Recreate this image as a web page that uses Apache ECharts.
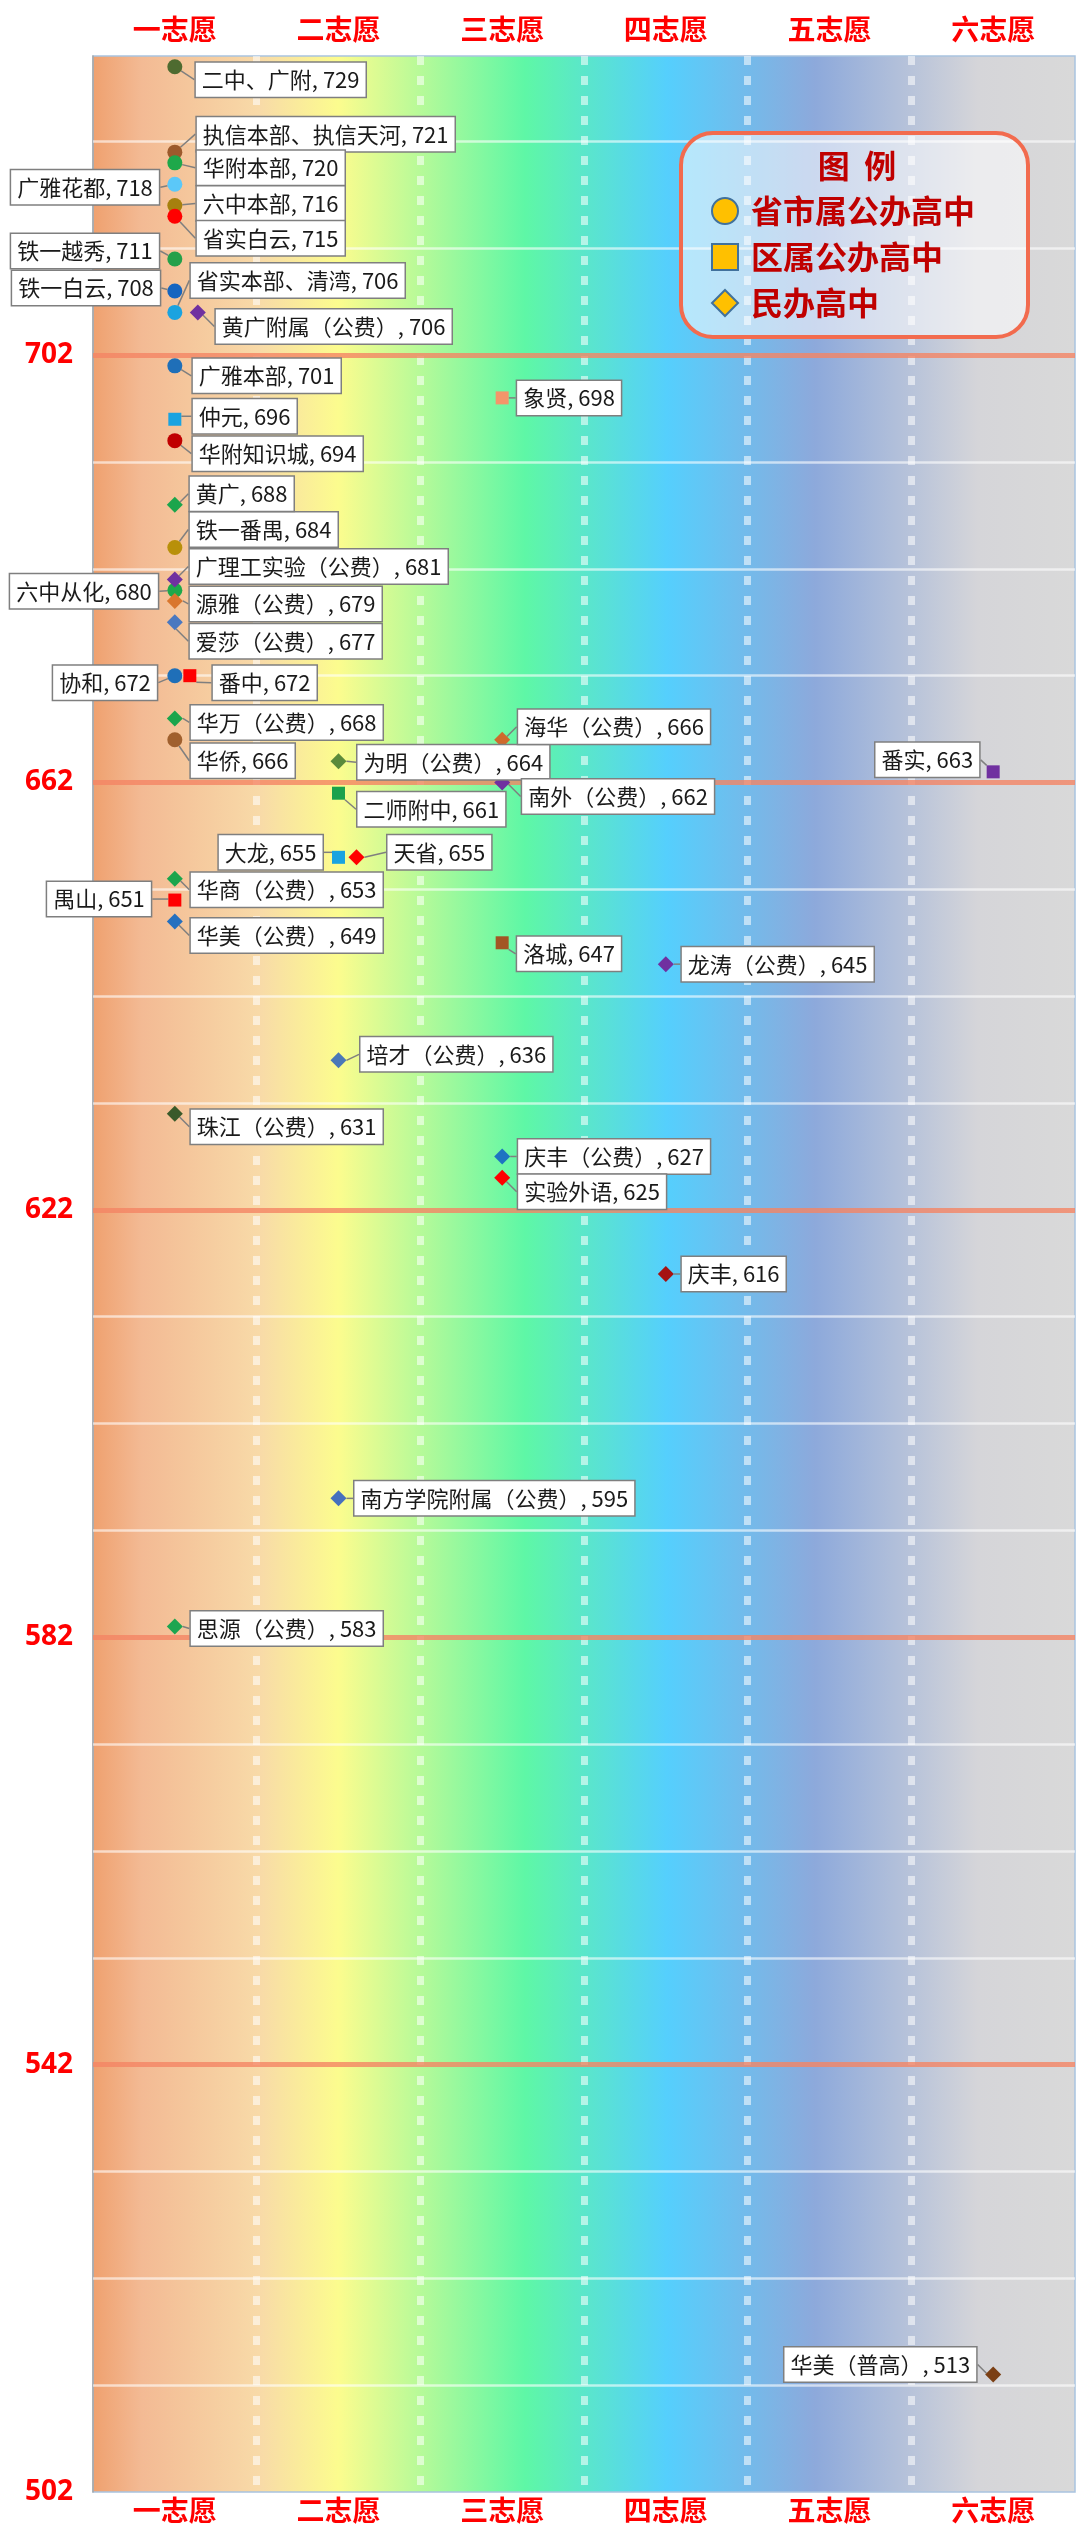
<!DOCTYPE html>
<html>
<head>
<meta charset="utf-8">
<title>志愿分数线</title>
<script src="https://cdn.jsdelivr.net/npm/echarts@6/dist/echarts.min.js"></script>
<style>
  html, body { margin: 0; padding: 0; background: #fff; }
  #main { width: 1080px; height: 2529px; }
</style>
</head>
<body>
<div id="main"></div>
<script>
// 志愿（横轴）
var volunteers = ['一志愿', '二志愿', '三志愿', '四志愿', '五志愿', '六志愿'];

// 纵轴刻度
var yTickLabels = [502, 542, 582, 622, 662, 702];
var majorLines = [542, 582, 622, 662, 702];
var minorLines = [512, 522, 532, 552, 562, 572, 592, 602, 612, 632, 642, 652, 672, 682, 692, 712, 722];

// 省市属公办高中
var publicNames = ['二中、广附', '执信本部、执信天河', '华附本部', '广雅花都', '六中本部', '省实白云', '铁一越秀', '铁一白云',
  '省实本部、清湾', '广雅本部', '华附知识城', '铁一番禺', '六中从化', '协和', '华侨'];
var publicChoice = [0, 0, 0, 0, 0, 0, 0, 0, 0, 0, 0, 0, 0, 0, 0];
var publicScores = [729, 721, 720, 718, 716, 715, 711, 708, 706, 701, 694, 684, 680, 672, 666];

// 区属公办高中
var districtNames = ['仲元', '番中', '禺山', '二师附中', '大龙', '象贤', '洛城', '番实'];
var districtChoice = [0, 0, 0, 1, 1, 2, 2, 5];
var districtScores = [696, 672, 651, 661, 655, 698, 647, 663];

// 民办高中
var privateNames = ['黄广附属（公费）', '黄广', '广理工实验（公费）', '源雅（公费）', '爱莎（公费）', '华万（公费）', '华商（公费）',
  '华美（公费）', '珠江（公费）', '思源（公费）', '为明（公费）', '天省', '培才（公费）', '南方学院附属（公费）', '海华（公费）',
  '南外（公费）', '庆丰（公费）', '实验外语', '龙涛（公费）', '庆丰', '华美（普高）'];
var privateChoice = [0, 0, 0, 0, 0, 0, 0, 0, 0, 0, 1, 1, 1, 1, 2, 2, 2, 2, 3, 3, 5];
var privateScores = [706, 688, 681, 679, 677, 668, 653, 649, 631, 583, 664, 655, 636, 595, 666, 662, 627, 625, 645, 616, 513];

var legendNames = ['省市属公办高中', '区属公办高中', '民办高中'];

// 点的颜色
var publicColors = ['#4E6B30', '#9C5A2C', '#1EA84A', '#5BC8F8', '#A6800E', '#FF0000', '#24A04A', '#1565C0',
  '#1AA3E0', '#1F6FB8', '#C00000', '#B8900A', '#1EA84A', '#1F6FB8', '#A0602E'];
var districtColors = ['#1AA3E0', '#FF0000', '#FF0000', '#1BA24C', '#1AA3E0', '#F4956A', '#A35524', '#7030A0'];
var privateColors = ['#7030A0', '#1BA54C', '#7030A0', '#D9762E', '#4A78C0', '#1BA54C', '#1BA54C', '#2570BF',
  '#3A5A2A', '#1DA550', '#5B8A3B', '#FF0000', '#4A78B8', '#4670BE', '#CF6A2C', '#7030A0', '#1E74C2',
  '#FF0000', '#7030A0', '#A51212', '#7B3F14'];

// 同一位置上错开的点
var symbolShift = { '黄广附属（公费）': [23, 0], '番中': [15, 0], '天省': [18, 0] };

// 标注框相对点的位置 [水平间距, 垂直偏移]
var labelOffsets = {
  '二中、广附': [21, 13], '执信本部、执信天河': [22, -18], '华附本部': [22, 5], '六中本部': [22, -2],
  '省实白云': [22, 22], '省实本部、清湾': [16, -32], '黄广附属（公费）': [18, 14], '广雅本部': [18, 10],
  '仲元': [18, -3], '华附知识城': [18, 13], '黄广': [15, -11], '铁一番禺': [15, -18],
  '广理工实验（公费）': [15, -13], '源雅（公费）': [15, 3], '爱莎（公费）': [15, 19], '番中': [23, 7],
  '华万（公费）': [16, 4], '华侨': [16, 21], '华商（公费）': [16, 11], '华美（公费）': [16, 14],
  '珠江（公费）': [16, 13], '思源（公费）': [16, 2], '为明（公费）': [19, 1], '二师附中': [19, 16],
  '天省': [31, -5], '培才（公费）': [22, -6], '南方学院附属（公费）': [16, 0], '象贤': [15, 0],
  '海华（公费）': [16, -13], '南外（公费）': [20, 14], '洛城': [15, 11], '庆丰（公费）': [16, 0],
  '实验外语': [16, 14], '龙涛（公费）': [16, 0], '庆丰': [16, 0],
  '广雅花都': [16, 3], '铁一越秀': [16, -8], '铁一白云': [15, -3], '六中从化': [17, 1],
  '协和': [18, 7], '禺山': [24, -1], '大龙': [16, -5], '番实': [14, -12], '华美（普高）': [17, -10]
};
var leftLabels = ['广雅花都', '铁一越秀', '铁一白云', '六中从化', '协和', '禺山', '大龙', '番实', '华美（普高）'];

var FONT = '"Noto Sans CJK SC", "Noto Sans", sans-serif';

function buildData(names, choice, scores, colors) {
  var out = [];
  for (var i = 0; i < names.length; i++) {
    var item = {
      name: names[i],
      value: [choice[i], scores[i]],
      itemStyle: { color: colors[i] }
    };
    if (symbolShift[names[i]]) item.symbolOffset = symbolShift[names[i]];
    out.push(item);
  }
  return out;
}

//标注框摆放
function makeLayout(names) {
  return function (p) {
    var name = names[p.dataIndex];
    var o = labelOffsets[name] || [16, 0];
    var side = leftLabels.indexOf(name) >= 0 ? -1 : 1;
    var cx = p.rect.x + p.rect.width / 2;
    var cy = p.rect.y + p.rect.height / 2;
    return {
      x: cx + side * o[0],
      y: cy + o[1],
      align: side > 0 ? 'left' : 'right',
      verticalAlign: 'middle'
    };
  };
}

function scatterSeries(legendName, symbol, size, names, choice, scores, colors) {
  return {
    name: legendName,
    type: 'scatter',
    symbol: symbol,
    symbolSize: size,
    z: 5,
    itemStyle: { opacity: 1 },
    data: buildData(names, choice, scores, colors),
    label: {
      show: true,
      position: 'right',
      formatter: function (p) { return p.name + ', ' + p.value[1]; },
      fontFamily: FONT,
      fontSize: 22,
      lineHeight: 26,
      color: '#1a1a1a',
      backgroundColor: '#ffffff',
      borderColor: '#7F7F7F',
      borderWidth: 1.5,
      padding: [4, 6, 4, 6]
    },
    labelLine: {
      show: true,
      lineStyle: { color: '#7F7F7F', width: 1.5 }
    },
    labelLayout: makeLayout(names)
  };
}

var gridLineData = [];
for (var i = 0; i < minorLines.length; i++) {
  gridLineData.push({ yAxis: minorLines[i], lineStyle: { color: 'rgba(255,255,255,0.6)', width: 2.5, type: 'solid' } });
}
for (var j = 0; j < majorLines.length; j++) {
  gridLineData.push({ yAxis: majorLines[j], lineStyle: { color: 'rgba(244,132,100,0.8)', width: 5, type: 'solid' } });
}

var chart = echarts.init(document.getElementById('main'), null, { renderer: 'canvas' });

var option = {
  animation: false,
  backgroundColor: '#ffffff',
  title: {
    text: '图  例',
    left: 857,
    top: 150,
    textAlign: 'center',
    padding: 0,
    z: 10,
    textStyle: { color: '#C00000', fontSize: 32, fontWeight: 'bold', fontFamily: FONT }
  },
  legend: {
    orient: 'vertical',
    left: 681,
    top: 133,
    padding: [62, 53, 18, 30],
    itemWidth: 26,
    itemHeight: 26,
    itemGap: 14,
    selectedMode: false,
    z: 9,
    backgroundColor: 'rgba(255,255,255,0.55)',
    borderColor: '#F26B4E',
    borderWidth: 4,
    borderRadius: 32,
    textStyle: { color: '#C00000', fontSize: 32, fontWeight: 'bold', fontFamily: FONT, padding: [0, 0, 0, 8] },
    data: [
      { name: legendNames[0], icon: 'circle', itemStyle: { color: '#FFC000', borderColor: '#41719C', borderWidth: 2 } },
      { name: legendNames[1], icon: 'rect', itemStyle: { color: '#FFC000', borderColor: '#41719C', borderWidth: 2 } },
      { name: legendNames[2], icon: 'diamond', itemStyle: { color: '#FFC000', borderColor: '#41719C', borderWidth: 2 } }
    ]
  },
  grid: {
    left: 93,
    right: 5,
    top: 56,
    bottom: 37,
    show: true,
    borderColor: '#A9C4E0',
    borderWidth: 1.5,
    backgroundColor: new echarts.graphic.LinearGradient(0, 0, 1, 0, [
      { offset: 0, color: '#EFA06E' },
      { offset: 0.05, color: '#F3BA94' },
      { offset: 0.17, color: '#F8DAA8' },
      { offset: 0.25, color: '#FCFC8E' },
      { offset: 0.44, color: '#5EF7A6' },
      { offset: 0.585, color: '#55CFFD' },
      { offset: 0.735, color: '#8DA9DB' },
      { offset: 0.9, color: '#D5D5D9' },
      { offset: 1, color: '#D9D9D9' }
    ])
  },
  xAxis: [
    {
      type: 'category',
      position: 'bottom',
      data: volunteers,
      axisLine: { show: false },
      axisTick: { show: false },
      axisLabel: { color: '#FF0000', fontSize: 28, fontWeight: 'bold', fontFamily: FONT, margin: 4 },
      splitLine: {
        show: true,
        showMinLine: false,
        showMaxLine: false,
        lineStyle: { color: 'rgba(255,255,255,0.55)', width: 7, type: [9, 11] }
      }
    },
    {
      type: 'category',
      position: 'top',
      data: volunteers,
      axisLine: { show: false },
      axisTick: { show: false },
      axisLabel: { color: '#FF0000', fontSize: 28, fontWeight: 'bold', fontFamily: FONT, margin: 13 },
      splitLine: { show: false }
    }
  ],
  yAxis: {
    type: 'value',
    min: 502,
    max: 730,
    axisLine: { show: true, lineStyle: { color: '#A6A6A6', width: 1.5 } },
    axisTick: { show: false },
    splitLine: { show: false },
    axisLabel: {
      customValues: yTickLabels,
      margin: 20,
      color: '#FF0000',
      fontSize: 28,
      fontWeight: 'bold',
      fontFamily: '"Noto Sans", sans-serif'
    }
  },
  series: [
    scatterSeries(legendNames[0], 'circle', 15, publicNames, publicChoice, publicScores, publicColors),
    scatterSeries(legendNames[1], 'rect', 13, districtNames, districtChoice, districtScores, districtColors),
    scatterSeries(legendNames[2], 'diamond', 16, privateNames, privateChoice, privateScores, privateColors),
    {
      name: 'gridlines',
      type: 'line',
      data: [],
      z: 1,
      silent: true,
      markLine: {
        silent: true,
        symbol: 'none',
        label: { show: false },
        animation: false,
        data: gridLineData
      }
    }
  ]
};

chart.setOption(option);
</script>
</body>
</html>
